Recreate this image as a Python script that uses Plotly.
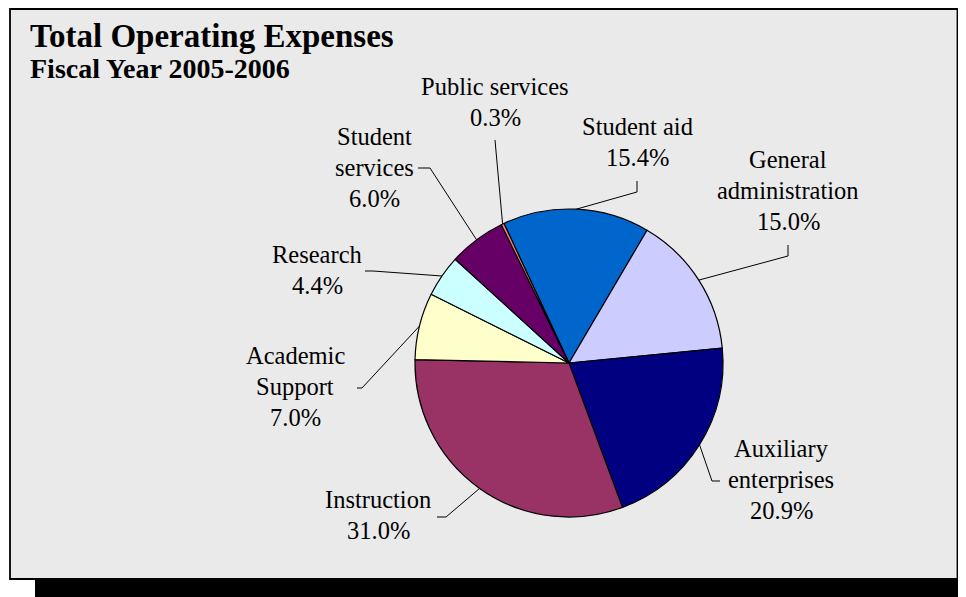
import math
import plotly.graph_objects as go

# ---- data ----
categories = ["Student aid", "General administration", "Auxiliary enterprises",
              "Instruction", "Academic Support", "Research", "Student services",
              "Public services"]
shares = [15.4, 15.0, 20.9, 31.0, 7.0, 4.4, 6.0, 0.3]
colors = ["#0066CC", "#CCCCFF", "#000080", "#993366", "#FFFFCC", "#CCFFFF",
          "#660066", "#FF8080"]
label_lines = {
    "Student aid": ["Student aid"],
    "General administration": ["General", "administration"],
    "Auxiliary enterprises": ["Auxiliary", "enterprises"],
    "Instruction": ["Instruction"],
    "Academic Support": ["Academic", "Support"],
    "Research": ["Research"],
    "Student services": ["Student", "services"],
    "Public services": ["Public services"],
}
title_text = "Total Operating Expenses"
subtitle_text = "Fiscal Year 2005-2006"

# ---- layout constants (window pixels) ----
# the page body has an 8px margin, so the figure is drawn 8px smaller and
# every window position is shifted by that offset
OFF = 8
W, H = 966 - OFF, 597 - OFF
CX, CY, R = 569, 363, 154
ROT = -25

# label block: (center x, first baseline y)
label_pos = {
    "Student aid": (637, 135),
    "General administration": (788, 168),
    "Auxiliary enterprises": (781, 457),
    "Instruction": (378, 508),
    "Academic Support": (295, 364),
    "Research": (317, 263),
    "Student services": (374, 145),
    "Public services": (495, 95),
}
# leader line fixed points (before reaching the slice edge)
leader_pts = {
    "Student aid": [(637, 181), (637, 192)],
    "General administration": [(788, 245), (788, 256)],
    "Auxiliary enterprises": [(720, 481), (712, 481)],
    "Instruction": [(437, 517), (446, 517)],
    "Academic Support": [(357, 388), (362, 388)],
    "Research": [(365, 271), (373, 271)],
    "Student services": [(418, 168), (430, 168)],
    "Public services": [(495, 140)],
}

LINE_H = 31
FS = 24.5
FONT_LBL = "Liberation Serif"


def px(x):
    return (x - OFF) / W


def py(y):
    return 1 - (y - OFF) / H


fig = go.Figure()
fig.add_trace(go.Pie(
    labels=categories, values=shares, sort=False, direction="clockwise",
    rotation=ROT, textinfo="none", hoverinfo="label+percent",
    marker=dict(colors=colors, line=dict(color="black", width=1.2)),
    domain=dict(x=[px(CX - R), px(CX + R)], y=[py(CY + R), py(CY - R)]),
    showlegend=False,
))

shapes = [
    # drop shadow (right strip and bottom strip)
    dict(type="rect", xref="paper", yref="paper", x0=px(950), x1=1.0,
         y0=py(597), y1=py(57), fillcolor="black", line=dict(width=0),
         layer="below"),
    dict(type="rect", xref="paper", yref="paper", x0=px(35), x1=1.0,
         y0=0.0, y1=py(570), fillcolor="black", line=dict(width=0),
         layer="below"),
    dict(type="rect", xref="paper", yref="paper", x0=px(10), x1=px(957.5),
         y0=py(579), y1=py(9), fillcolor="#EAEAEA",
         line=dict(color="black", width=1.8), layer="below"),
]

annotations = []
total = sum(shares)
cum = 0.0
for cat, v in zip(categories, shares):
    mid = cum + v / 2
    cum += v
    ang = math.radians(ROT + 360 * mid / total)
    ex, ey = CX + R * math.sin(ang), CY - R * math.cos(ang)
    pts = leader_pts[cat] + [(ex, ey)]
    path = "M " + " L ".join(f"{px(a):.5f},{py(b):.5f}" for a, b in pts)
    shapes.append(dict(type="path", xref="paper", yref="paper", path=path,
                       line=dict(color="black", width=1), layer="above"))
    lx, ly = label_pos[cat]
    lines = label_lines[cat] + [f"{v:.1f}%"]
    for i, t in enumerate(lines):
        base = ly + i * LINE_H
        annotations.append(dict(
            text=t, x=px(lx), y=py(base - 0.33 * FS), xref="paper", yref="paper",
            xanchor="center", yanchor="middle", showarrow=False,
            font=dict(family=FONT_LBL, size=FS, color="black")))

TFS, SFS = 33, 28
annotations.append(dict(text="<b>" + title_text + "</b>", x=px(28),
                        y=py(47 - 0.33 * TFS), xref="paper", yref="paper",
                        xanchor="left", yanchor="middle", showarrow=False,
                        font=dict(family="Liberation Serif", size=TFS,
                                  color="black")))
annotations.append(dict(text="<b>" + subtitle_text + "</b>", x=px(28),
                        y=py(78 - 0.33 * SFS), xref="paper", yref="paper",
                        xanchor="left", yanchor="middle", showarrow=False,
                        font=dict(family="Liberation Serif", size=SFS,
                                  color="black")))

fig.update_layout(width=W, height=H, margin=dict(l=0, r=0, t=0, b=0),
                  paper_bgcolor="white", plot_bgcolor="white",
                  shapes=shapes, annotations=annotations)
fig.write_html("out.html")
